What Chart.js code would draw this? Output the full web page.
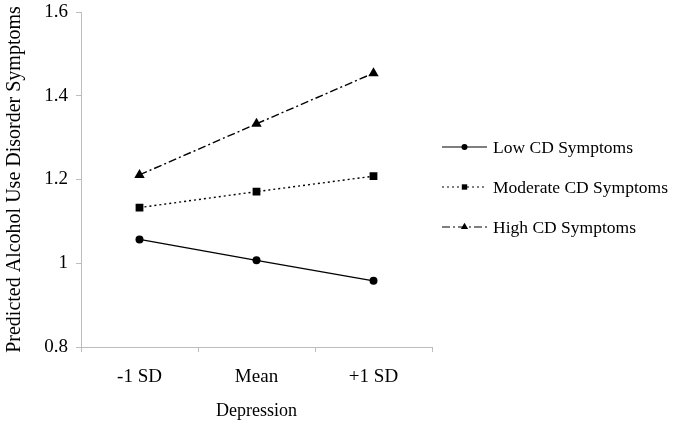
<!DOCTYPE html>
<html>
<head>
<meta charset="utf-8">
<script src="https://cdn.jsdelivr.net/npm/chart.js@4/dist/chart.umd.min.js"></script>
<style>
  html, body { margin: 0; padding: 0; background: #fff; }
  #wrap { width: 673px; height: 422px; }
</style>
</head>
<body>
<div id="wrap"><canvas id="c" width="673" height="422"></canvas></div>
<script>
const categories = ['-1 SD', 'Mean', '+1 SD'];
const seriesNames = ['Low CD Symptoms', 'Moderate CD Symptoms', 'High CD Symptoms'];
const lowCD = [1.057, 1.007, 0.958];
const moderateCD = [1.133, 1.171, 1.208];
const highCD = [1.211, 1.333, 1.454];
const yTickLabels = ['0.8', '1', '1.2', '1.4', '1.6'];
const xAxisTitle = 'Depression';
const yAxisTitle = 'Predicted Alcohol Use Disorder Symptoms';

const FONT = "'Liberation Serif', 'Times New Roman', serif";
const AXIS_GRAY = '#bdbdbd';

const styles = [
  { dash: [], point: 'circle', r: 4, lr: 3 },
  { dash: [2, 3], point: 'rect', r: 5.5, lr: 3.8 },
  { dash: [8, 3, 2, 3], point: 'triangle', r: 6, lr: 4.2 }
];
const seriesData = [lowCD, moderateCD, highCD];

const datasets = seriesData.map((d, i) => ({
  label: seriesNames[i],
  data: d,
  borderColor: '#000',
  backgroundColor: '#000',
  borderWidth: 1.4,
  borderDash: styles[i].dash,
  pointStyle: styles[i].point,
  pointRadius: styles[i].r,
  pointHoverRadius: styles[i].r,
  pointBackgroundColor: '#000',
  pointBorderColor: '#000',
  pointBorderWidth: 0,
  tension: 0,
  fill: false,
  legendRadius: styles[i].lr
}));

const legendPlugin = {
  id: 'sideLegend',
  afterDraw(chart) {
    const ctx = chart.ctx;
    const area = chart.chartArea;
    const x0 = area.right + 10;
    const lineLen = 45;
    const rowGap = 40;
    const midY = (area.top + area.bottom) / 2 + 7.5;
    const n = chart.data.datasets.length;
    ctx.save();
    chart.data.datasets.forEach((ds, i) => {
      const y = midY + (i - (n - 1) / 2) * rowGap;
      ctx.strokeStyle = ds.borderColor;
      ctx.lineWidth = 1.2;
      ctx.setLineDash(ds.borderDash || []);
      ctx.beginPath();
      ctx.moveTo(x0, y);
      ctx.lineTo(x0 + lineLen, y);
      ctx.stroke();
      ctx.setLineDash([]);
      ctx.fillStyle = '#000';
      Chart.helpers.drawPoint(ctx, {
        pointStyle: ds.pointStyle,
        radius: ds.legendRadius,
        rotation: 0,
        borderWidth: 0
      }, x0 + lineLen / 2, y);
      ctx.fillStyle = '#000';
      ctx.font = '17.5px ' + FONT;
      ctx.textBaseline = 'middle';
      ctx.textAlign = 'left';
      ctx.fillText(ds.label, x0 + lineLen + 6, y + 1);
    });
    ctx.restore();
  }
};

new Chart(document.getElementById('c'), {
  type: 'line',
  data: { labels: categories, datasets },
  options: {
    responsive: false,
    animation: false,
    events: [],
    layout: { padding: { left: 0, right: 241, top: 12, bottom: 0 } },
    plugins: { legend: { display: false }, tooltip: { enabled: false } },
    scales: {
      x: {
        type: 'category',
        offset: true,
        border: { color: AXIS_GRAY, width: 1 },
        grid: { offset: true, drawOnChartArea: false, drawTicks: true, tickLength: 5, color: AXIS_GRAY },
        ticks: { color: '#000', font: { family: FONT, size: 19 }, padding: 14 },
        title: { display: true, text: xAxisTitle, color: '#000', font: { family: FONT, size: 18 }, padding: { top: 7, bottom: 0 } },
        afterFit(scale) { scale.height = 75; scale.paddingLeft = 0; scale.paddingRight = 0; }
      },
      y: {
        min: 0.8,
        max: 1.6,
        border: { color: AXIS_GRAY, width: 1 },
        grid: { drawOnChartArea: false, drawTicks: true, tickLength: 5, color: AXIS_GRAY },
        ticks: {
          stepSize: 0.2,
          color: '#000',
          font: { family: FONT, size: 19 },
          padding: 8,
          callback: (v, i) => yTickLabels[i]
        },
        title: { display: true, text: yAxisTitle, color: '#000', font: { family: FONT, size: 20 }, padding: { top: 3, bottom: 0 } },
        afterFit(scale) { scale.width = 81; scale.paddingTop = 0; scale.paddingBottom = 0; }
      }
    }
  },
  plugins: [legendPlugin]
});
</script>
</body>
</html>
